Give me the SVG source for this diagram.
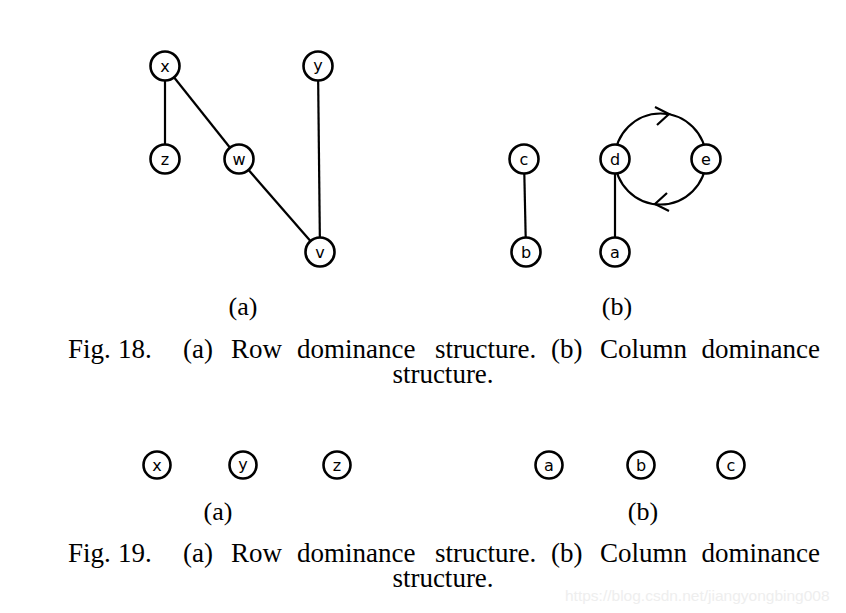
<svg xmlns="http://www.w3.org/2000/svg" width="846" height="613" viewBox="0 0 846 613">
<style>
.n circle{fill:#fff;stroke:#000;stroke-width:2.6}
.n text{font-family:"DejaVu Sans","Liberation Sans",sans-serif;font-size:16px;text-anchor:middle;fill:#000}
.e{stroke:#000;stroke-width:2.2;fill:none}
.lbl{font-family:"Liberation Serif",serif;font-size:26px;fill:#000;text-anchor:middle}
.cap{font-family:"Liberation Serif",serif;font-size:27px;fill:#000}
.ah{fill:none;stroke:#000;stroke-width:2.2}
</style>
<rect width="846" height="613" fill="#fff"/>
<g id="connectors">
<line class="e" x1="165" y1="66" x2="165" y2="159"/>
<line class="e" x1="165" y1="66" x2="239" y2="159"/>
<line class="e" x1="239" y1="159" x2="320" y2="252"/>
<line class="e" x1="318" y1="66" x2="320" y2="252"/>
<line class="e" x1="524" y1="159" x2="526" y2="252"/>
<line class="e" x1="615" y1="159" x2="615" y2="252"/>
<path class="e" d="M615,159 A45.5,45.5 0 0 1 706,159"/>
<path class="e" d="M706,159 A45.5,45.5 0 0 1 615,159"/>
<path class="ah" d="M655,107 L669,114 L657,125"/>
<path class="ah" d="M667,193 L655,204 L669,211"/>
</g>
<g id="node-x" class="n"><circle cx="165" cy="66" r="14.5"/><text x="165" y="72">x</text></g>
<g id="node-y" class="n"><circle cx="318" cy="66" r="14.5"/><text x="318" y="71">y</text></g>
<g id="node-z" class="n"><circle cx="165" cy="159" r="14.5"/><text x="165" y="165">z</text></g>
<g id="node-w" class="n"><circle cx="239" cy="159" r="14.5"/><text x="239" y="165">w</text></g>
<g id="node-v" class="n"><circle cx="320" cy="252" r="14.5"/><text x="320" y="258">v</text></g>
<g id="node-c" class="n"><circle cx="524" cy="159" r="14.5"/><text x="524" y="165">c</text></g>
<g id="node-b" class="n"><circle cx="526" cy="252" r="14.5"/><text x="526" y="258">b</text></g>
<g id="node-d" class="n"><circle cx="615" cy="159" r="14.5"/><text x="615" y="165">d</text></g>
<g id="node-e" class="n"><circle cx="706" cy="159" r="14.5"/><text x="706" y="165">e</text></g>
<g id="node-a" class="n"><circle cx="615" cy="252" r="14.5"/><text x="615" y="258">a</text></g>
<text class="lbl" x="243" y="315">(a)</text>
<text class="lbl" x="617" y="315">(b)</text>
<g id="caption18" class="cap">
<text x="68" y="358">Fig.</text>
<text x="118" y="358">18.</text>
<text x="183" y="358">(a)</text>
<text x="231" y="358">Row</text>
<text x="297" y="358">dominance</text>
<text x="435" y="358">structure.</text>
<text x="551" y="358">(b)</text>
<text x="600" y="358">Column</text>
<text x="820" y="358" text-anchor="end">dominance</text>
</g>
<text class="cap" x="443" y="383" text-anchor="middle">structure.</text>
<g id="node-x2" class="n"><circle cx="157" cy="465" r="13.5"/><text x="157" y="471">x</text></g>
<g id="node-y2" class="n"><circle cx="243" cy="465" r="13.5"/><text x="243" y="470">y</text></g>
<g id="node-z2" class="n"><circle cx="337" cy="465" r="13.5"/><text x="337" y="471">z</text></g>
<g id="node-a2" class="n"><circle cx="549" cy="465" r="13.5"/><text x="549" y="471">a</text></g>
<g id="node-b2" class="n"><circle cx="641" cy="465" r="13.5"/><text x="641" y="471">b</text></g>
<g id="node-c2" class="n"><circle cx="731" cy="465" r="13.5"/><text x="731" y="471">c</text></g>
<text class="lbl" x="218" y="520">(a)</text>
<text class="lbl" x="643" y="520">(b)</text>
<g id="caption19" class="cap">
<text x="68" y="562">Fig.</text>
<text x="118" y="562">19.</text>
<text x="183" y="562">(a)</text>
<text x="231" y="562">Row</text>
<text x="297" y="562">dominance</text>
<text x="435" y="562">structure.</text>
<text x="551" y="562">(b)</text>
<text x="600" y="562">Column</text>
<text x="820" y="562" text-anchor="end">dominance</text>
</g>
<text class="cap" x="443" y="587" text-anchor="middle">structure.</text>
<text x="565" y="601" font-family="Liberation Sans,sans-serif" font-size="15.5" fill="#eeeeee">https://blog.csdn.net/jiangyongbing008</text>
</svg>
